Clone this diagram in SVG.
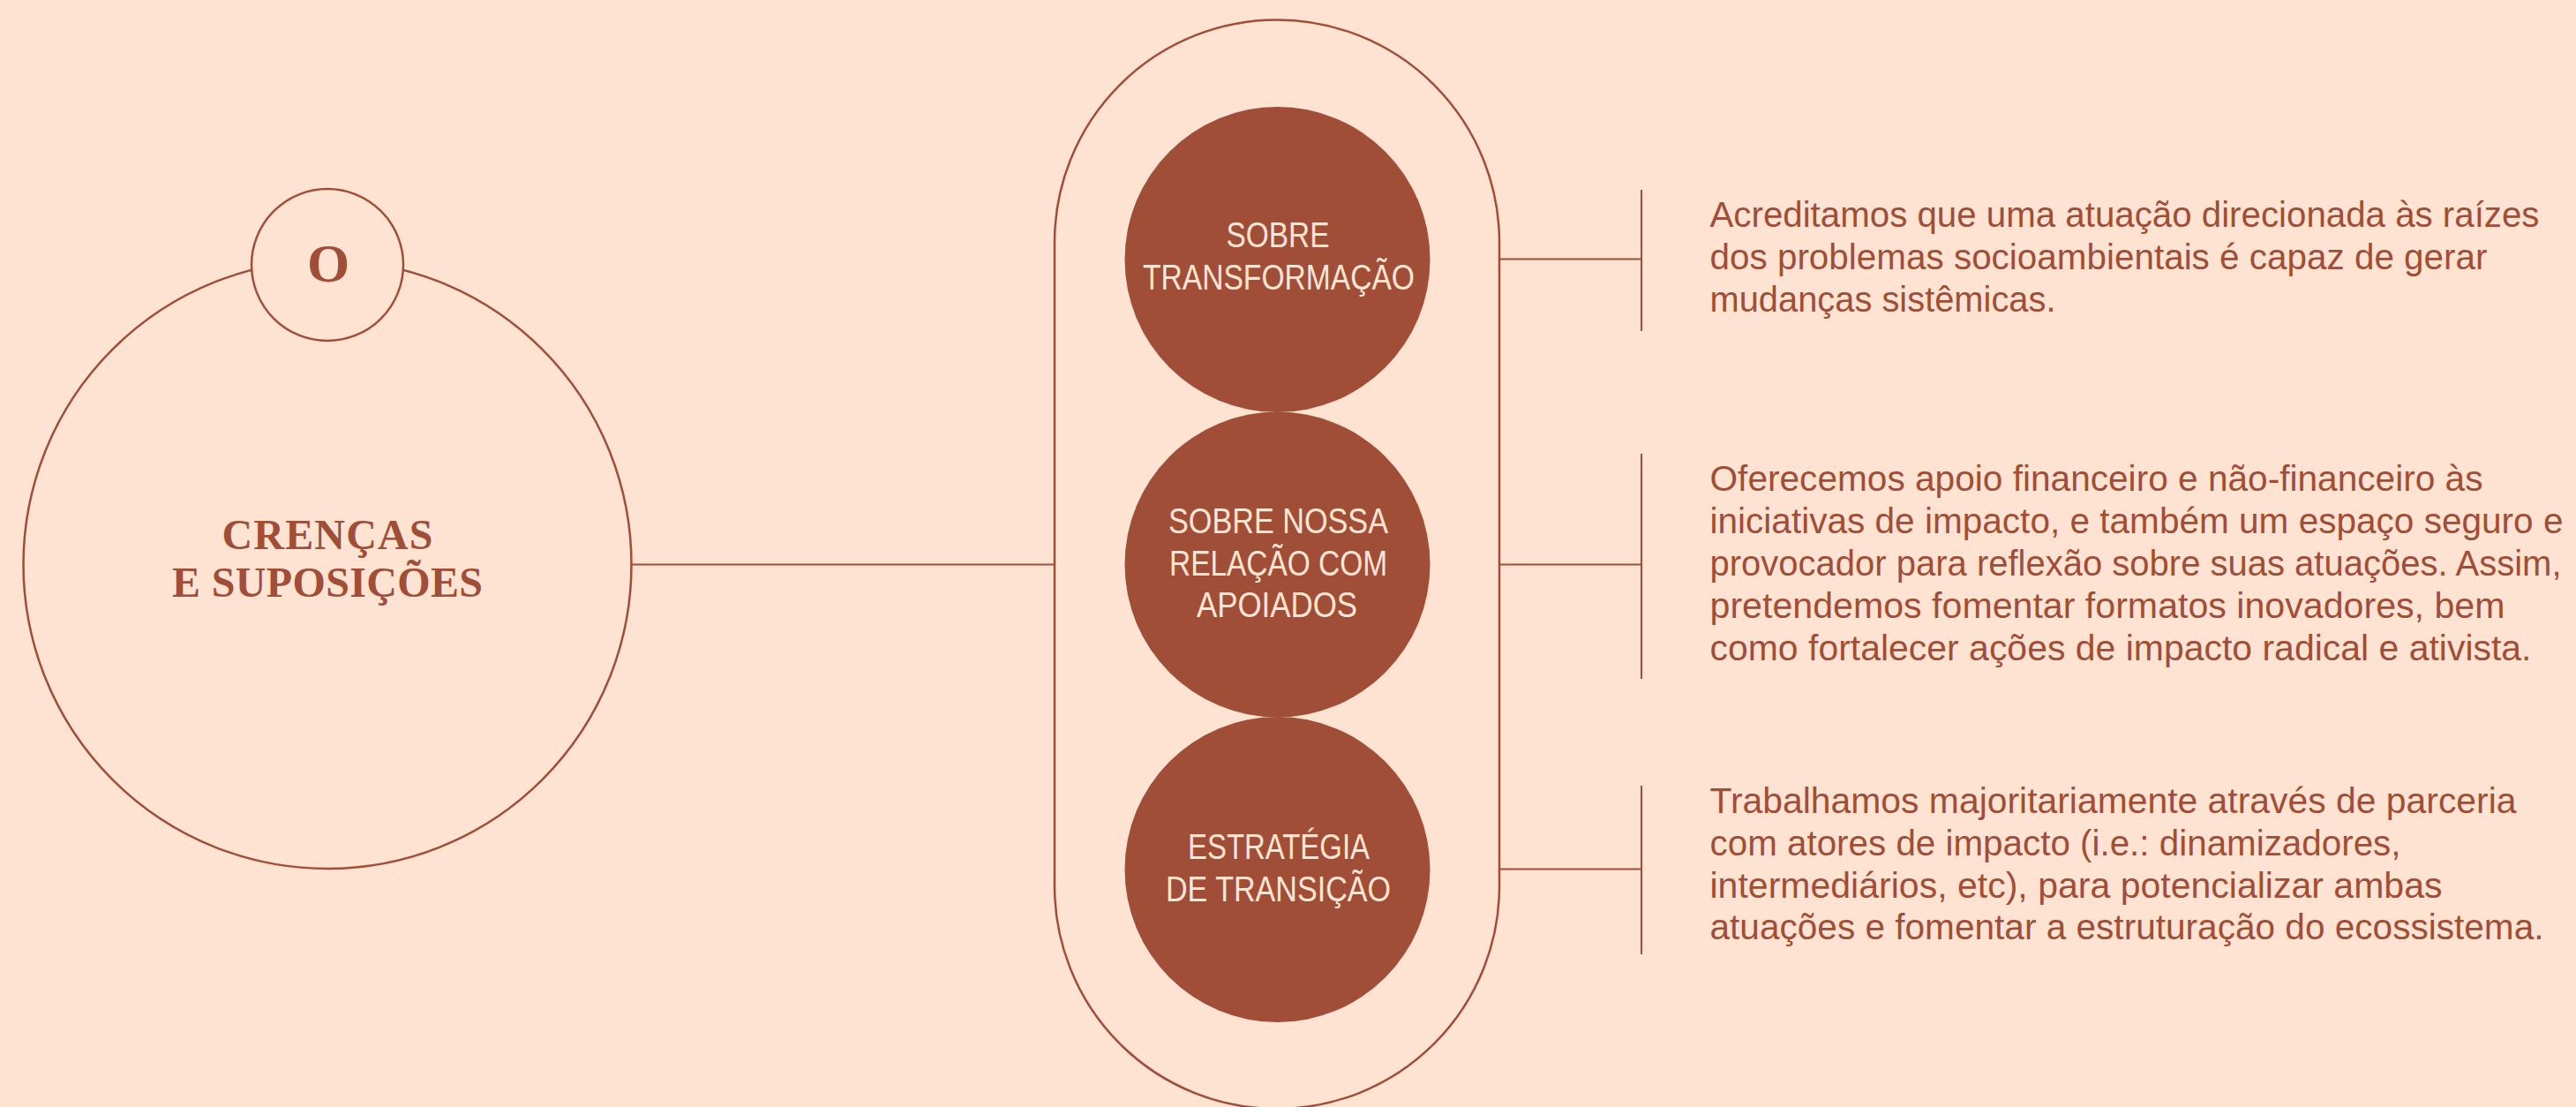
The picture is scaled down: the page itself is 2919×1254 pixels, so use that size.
<svg xmlns="http://www.w3.org/2000/svg" width="2919" height="1254" viewBox="0 0 2919 1254">
  <style>
    .bg { fill: #FEE3D3; }
    .ring { fill: #FEE3D3; stroke: #A04E37; stroke-width: 2.5; }
    .ln { stroke: #A04E37; stroke-width: 2; fill: none; }
    .dot { fill: #A04E37; }
    .serif { font-family: "Liberation Serif", "DejaVu Serif", serif; font-weight: bold; fill: #A04E37; text-anchor: middle; }
    .lbl { font-family: "Liberation Sans", Arial, sans-serif; font-size: 40px; fill: #FDE4D3; text-anchor: middle; }
    .body { font-family: "Liberation Sans", Arial, sans-serif; font-size: 40px; fill: #A04E37; }
  </style>
  <rect class="bg" x="0" y="0" width="2919" height="1254"/>

  <g id="connectors">
    <line class="ln" x1="716" y1="639.5" x2="1195" y2="639.5"/>
    <line class="ln" x1="1620" y1="293.5" x2="1860" y2="293.5"/>
    <line class="ln" x1="1620" y1="639.5" x2="1860" y2="639.5"/>
    <line class="ln" x1="1620" y1="984.5" x2="1860" y2="984.5"/>
    <line class="ln" x1="1860" y1="215" x2="1860" y2="375"/>
    <line class="ln" x1="1860" y1="514" x2="1860" y2="769"/>
    <line class="ln" x1="1860" y1="890" x2="1860" y2="1081"/>
  </g>

  <g id="node-crencas">
    <circle class="ring" cx="371" cy="639.5" r="344.5"/>
    <text class="serif" font-size="48" x="371" y="622" textLength="239">CRENÇAS</text>
    <text class="serif" font-size="48" x="371" y="675.5" textLength="352">E SUPOSIÇÕES</text>
  </g>

  <g id="node-o">
    <circle class="ring" cx="371" cy="300" r="86"/>
    <text class="serif" font-size="62" x="372" y="319">O</text>
  </g>

  <g id="node-pill">
    <rect class="ring" x="1195" y="22.5" width="504" height="1233.5" rx="252" ry="252"/>
  </g>

  <g id="node-transformacao">
    <circle class="dot" cx="1447.5" cy="294" r="173"/>
    <text class="lbl" x="1448" y="280" textLength="117" lengthAdjust="spacingAndGlyphs">SOBRE</text>
    <text class="lbl" x="1449" y="327.5" textLength="308" lengthAdjust="spacingAndGlyphs">TRANSFORMAÇÃO</text>
  </g>

  <g id="node-relacao">
    <circle class="dot" cx="1447.5" cy="639.5" r="173"/>
    <text class="lbl" x="1448.5" y="603.5" textLength="249" lengthAdjust="spacingAndGlyphs">SOBRE NOSSA</text>
    <text class="lbl" x="1448.5" y="651.5" textLength="247" lengthAdjust="spacingAndGlyphs">RELAÇÃO COM</text>
    <text class="lbl" x="1447" y="698.5" textLength="182" lengthAdjust="spacingAndGlyphs">APOIADOS</text>
  </g>

  <g id="node-estrategia">
    <circle class="dot" cx="1447.5" cy="985" r="173"/>
    <text class="lbl" x="1449" y="973" textLength="206" lengthAdjust="spacingAndGlyphs">ESTRATÉGIA</text>
    <text class="lbl" x="1448.5" y="1020.5" textLength="255" lengthAdjust="spacingAndGlyphs">DE TRANSIÇÃO</text>
  </g>

  <g id="text-1">
    <text class="body" x="1937.5" y="256.5" textLength="940" lengthAdjust="spacingAndGlyphs">Acreditamos que uma atuação direcionada às raízes</text>
    <text class="body" x="1937.5" y="304.7" textLength="881" lengthAdjust="spacingAndGlyphs">dos problemas socioambientais é capaz de gerar</text>
    <text class="body" x="1937.5" y="352.9" textLength="392" lengthAdjust="spacingAndGlyphs">mudanças sistêmicas.</text>
  </g>

  <g id="text-2">
    <text class="body" x="1937.5" y="555.6" textLength="876" lengthAdjust="spacingAndGlyphs">Oferecemos apoio financeiro e não-financeiro às</text>
    <text class="body" x="1937.5" y="603.8" textLength="967" lengthAdjust="spacingAndGlyphs">iniciativas de impacto, e também um espaço seguro e</text>
    <text class="body" x="1937.5" y="652" textLength="965" lengthAdjust="spacingAndGlyphs">provocador para reflexão sobre suas atuações. Assim,</text>
    <text class="body" x="1937.5" y="700.2" textLength="901" lengthAdjust="spacingAndGlyphs">pretendemos fomentar formatos inovadores, bem</text>
    <text class="body" x="1937.5" y="748.4" textLength="931" lengthAdjust="spacingAndGlyphs">como fortalecer ações de impacto radical e ativista.</text>
  </g>

  <g id="text-3">
    <text class="body" x="1937.5" y="920.6" textLength="914" lengthAdjust="spacingAndGlyphs">Trabalhamos majoritariamente através de parceria</text>
    <text class="body" x="1937.5" y="968.6" textLength="783" lengthAdjust="spacingAndGlyphs">com atores de impacto (i.e.: dinamizadores,</text>
    <text class="body" x="1937.5" y="1016.5" textLength="830" lengthAdjust="spacingAndGlyphs">intermediários, etc), para potencializar ambas</text>
    <text class="body" x="1937.5" y="1064.3" textLength="945" lengthAdjust="spacingAndGlyphs">atuações e fomentar a estruturação do ecossistema.</text>
  </g>
</svg>
